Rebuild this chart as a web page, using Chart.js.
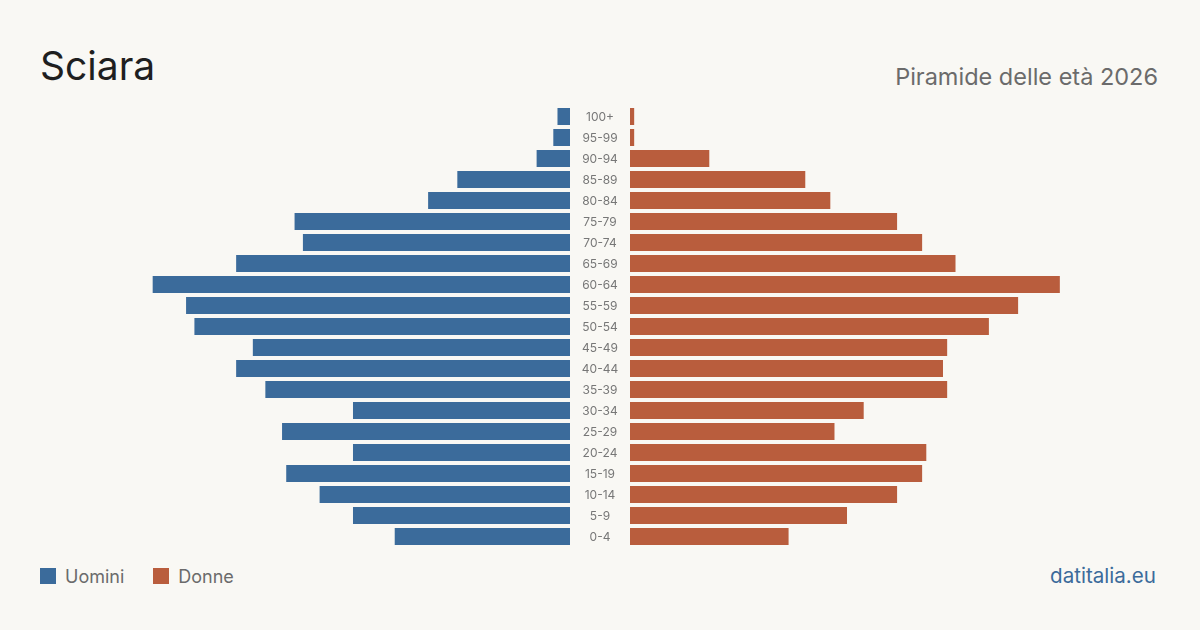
<!DOCTYPE html>
<html lang="it">
<head>
<meta charset="utf-8">
<script src="https://cdn.jsdelivr.net/npm/chart.js@4.4.1/dist/chart.umd.min.js"></script>
<style>
  body { margin: 0; width: 1200px; height: 630px; background: #f9f8f4; font-family: Inter, "Noto Sans", sans-serif; position: relative; overflow: hidden; }
  .title { position: absolute; left: 40px; top: 46px; margin: 0; font-size: 39px; line-height: 1; font-weight: 400; color: #1f1f1f; }
  .subtitle { position: absolute; right: 42px; top: 65px; font-size: 23.5px; line-height: 1; color: #6b6b6b; }
  .legend { position: absolute; left: 40px; top: 566px; height: 20px; display: flex; align-items: center; font-size: 18px; color: #6b6b6b; }
  .legend i { display: inline-block; width: 16px; height: 16px; margin-right: 9px; }
  .legend span { margin-right: 29px; }
  .source { position: absolute; right: 44px; top: 566px; font-size: 20.6px; line-height: 1; color: #3b6b9b; }
  #left { position: absolute; left: 40px; top: 106px; width: 530px; height: 441px; }
  #right { position: absolute; left: 570px; top: 106px; width: 590px; height: 441px; }
</style>
</head>
<body>
<h1 class="title">Sciara</h1>
<div class="subtitle">Piramide delle età 2026</div>
<div id="left"><canvas id="men"></canvas></div>
<div id="right"><canvas id="women"></canvas></div>
<div class="legend"><i style="background:#3b6b9b"></i><span>Uomini</span><i style="background:#b95d3d"></i><span>Donne</span></div>
<div class="source">datitalia.eu</div>
<script>
const ageGroups = ["0-4", "5-9", "10-14", "15-19", "20-24", "25-29", "30-34", "35-39", "40-44", "45-49",
  "50-54", "55-59", "60-64", "65-69", "70-74", "75-79", "80-84", "85-89", "90-94", "95-99", "100+"]
const men = [42, 52, 60, 68, 52, 69, 52, 73, 80, 76, 90, 92, 100, 80, 64, 66, 34, 27, 8, 4, 3]
const women = [38, 52, 64, 70, 71, 49, 56, 76, 75, 76, 86, 93, 103, 78, 70, 64, 48, 42, 19, 1, 1]

const BLUE = "#3b6b9b"
const RUST = "#b95d3d"
const scaleMax = 127

// age labels in the gap between the two halves
const ageLabels = {
  id: "ageLabels",
  afterDraw(chart) {
    const { ctx, chartArea, scales } = chart
    ctx.save()
    ctx.font = "12px Inter, sans-serif"
    ctx.fillStyle = "#777"
    ctx.textAlign = "center"
    ctx.textBaseline = "middle"
    ageGroups.forEach((g, i) => {
      ctx.fillText(g, chartArea.left - 30, scales.y.getPixelForValue(i) + 1)
    })
    ctx.restore()
  }
}

function half(el, label, data, color, reverse, extra) {
  return new Chart(document.getElementById(el), {
    type: "bar",
    data: {
      labels: ageGroups,
      datasets: [{ label, data, backgroundColor: color, borderWidth: 0, barPercentage: 17 / 21, categoryPercentage: 1 }]
    },
    options: {
      indexAxis: "y",
      responsive: true,
      maintainAspectRatio: false,
      animation: false,
      layout: { padding: extra ? { left: 60 } : 0 },
      plugins: { legend: { display: false }, tooltip: { enabled: false } },
      scales: {
        x: { display: false, min: 0, max: scaleMax, reverse },
        y: { display: false, reverse: true }
      }
    },
    plugins: extra ? [ageLabels] : []
  })
}

half("men", "Uomini", men, BLUE, true, false)
half("women", "Donne", women, RUST, false, true)
</script>
</body>
</html>
